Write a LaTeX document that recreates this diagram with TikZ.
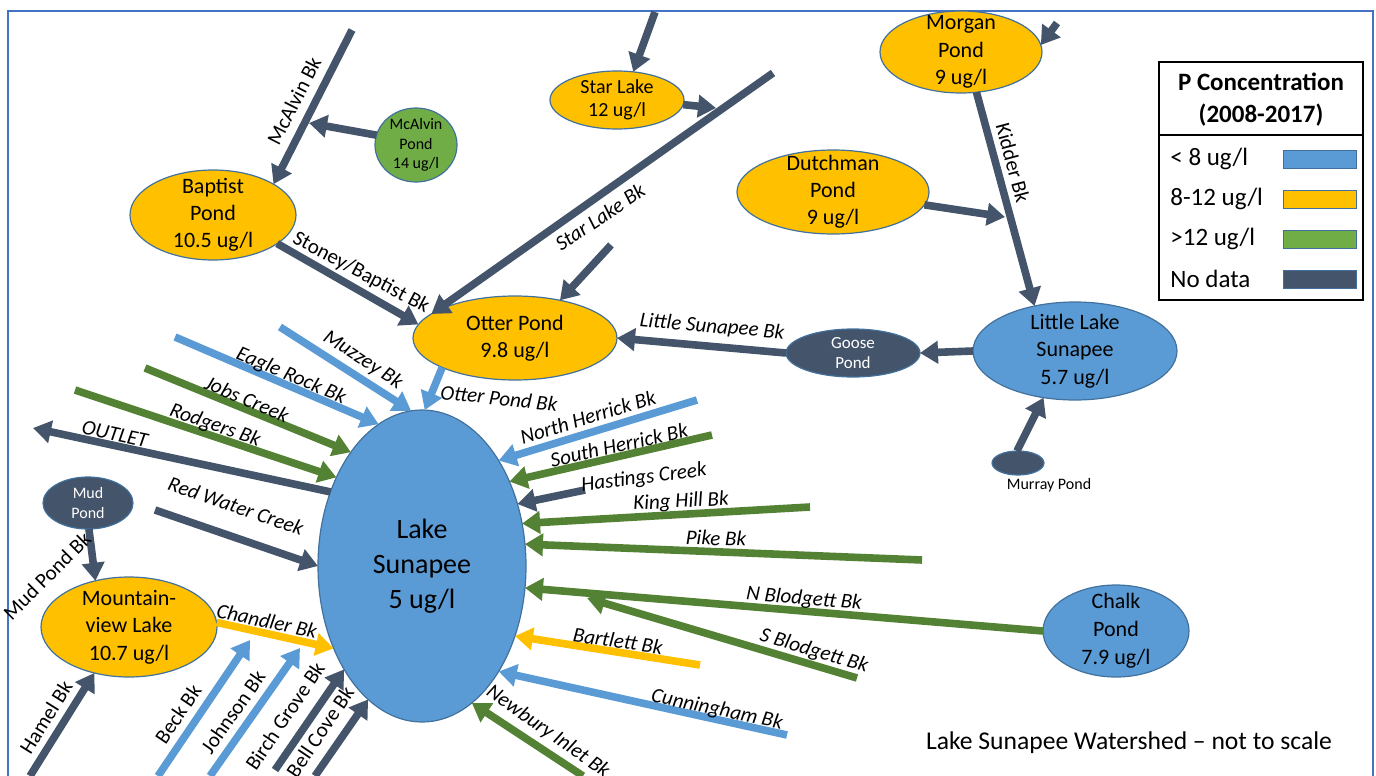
\documentclass[tikz,border=0pt]{standalone}
\usepackage{fontspec}
\setmainfont{Carlito}
\usetikzlibrary{shapes.geometric,arrows.meta}
\definecolor{lakeblue}{HTML}{5B9BD5}
\definecolor{pondgold}{HTML}{FFC000}
\definecolor{pondgreen}{HTML}{70AD47}
\definecolor{brookgreen}{HTML}{548235}
\definecolor{nodata}{HTML}{44546A}
\definecolor{rimblue}{HTML}{41719C}
\definecolor{frameblue}{HTML}{4472C4}

\begin{document}
\begin{tikzpicture}[x=0.5pt,y=-0.5pt,
	pond/.style={ellipse,draw=rimblue,line width=0.6pt,inner sep=-30pt,outer sep=0pt,align=center},
	flow/.style={line width=3.8pt,-{Triangle[length=9pt,width=11pt]}},
	brook/.style={inner sep=0pt,font=\fontsize{10.5}{12}\selectfont\itshape},
	brookup/.style={inner sep=0pt,font=\fontsize{10.5}{12}\selectfont}]
		\useasboundingbox (0,0) rectangle (1376,776);
		%frame
		\draw[frameblue,line width=1.2pt] (8,776) -- (8,11) -- (1373,11) -- (1373,776);
		
		%ponds and lakes
		\node[pond,fill=pondgold,minimum width=83pt,minimum height=45pt,font=\fontsize{11}{13.5}\selectfont] (baptist) at (213,215) {Baptist\\Pond\\10.5 ug/l};
		\node[pond,fill=pondgreen,minimum width=41pt,minimum height=37pt,font=\fontsize{8}{9.8}\selectfont] (mcalvin) at (416,145) {McAlvin\\Pond\\14 ug/l};
		\node[pond,fill=pondgold,minimum width=67pt,minimum height=29pt,font=\fontsize{10}{11.5}\selectfont] (starlake) at (617,100) {Star Lake\\12 ug/l};
		\node[pond,fill=pondgold,minimum width=81pt,minimum height=41pt,font=\fontsize{11}{13.8}\selectfont] (morgan) at (961,52) {Morgan\\Pond\\9 ug/l};
		\node[pond,fill=pondgold,minimum width=96pt,minimum height=42pt,font=\fontsize{11}{13.5}\selectfont] (dutchman) at (833,192) {Dutchman\\Pond\\9 ug/l};
		\node[pond,fill=pondgold,minimum width=102pt,minimum height=42pt,font=\fontsize{11}{13.5}\selectfont] (otter) at (515,338) {Otter Pond\\9.8 ug/l};
		\node[pond,fill=nodata,text=white,minimum width=67pt,minimum height=24pt,font=\fontsize{8.5}{10}\selectfont] (goose) at (853,353) {Goose\\Pond};
		\node[pond,fill=lakeblue,minimum width=102pt,minimum height=49pt,font=\fontsize{11}{13.8}\selectfont] (littlelake) at (1075,351) {Little Lake\\Sunapee\\5.7 ug/l};
		\node[pond,fill=nodata,minimum width=26pt,minimum height=12pt] (murray) at (1018,463) {};
		\node[inner sep=0pt,font=\fontsize{8}{10}\selectfont] (murrayname) at (1049,485) {Murray Pond};
		\node[pond,fill=lakeblue,minimum width=104pt,minimum height=156pt,font=\fontsize{14}{17.5}\selectfont] (lake) at (422,566) {Lake\\Sunapee\\5 ug/l};
		\node[pond,fill=nodata,text=white,minimum width=45pt,minimum height=26pt,font=\fontsize{8}{10}\selectfont] (mud) at (88,503) {Mud\\Pond};
		\node[pond,fill=pondgold,minimum width=88pt,minimum height=50pt,font=\fontsize{11}{13.8}\selectfont] (mountain) at (129,627) {Mountain-\\view Lake\\10.7 ug/l};
		\node[pond,fill=lakeblue,minimum width=73pt,minimum height=46pt,font=\fontsize{11}{14}\selectfont] (chalk) at (1116,631) {Chalk\\Pond\\7.9 ug/l};
		
		%free ends
		\coordinate (mcbkS) at (352,30);
		\coordinate (mcbkJ) at (309,123);
		\coordinate (starIn) at (655,12);
		\coordinate (slbkS) at (773,73);
		\coordinate (slbkJ) at (716,108);
		\coordinate (slbkT) at (611,245);
		\coordinate (morIn) at (1057,23);
		\coordinate (kidJ) at (1005,217);
		\coordinate (muzS) at (280,327);
		\coordinate (eagS) at (175,337);
		\coordinate (jobS) at (145,368);
		\coordinate (rodS) at (75,390);
		\coordinate (outE) at (33,428);
		\coordinate (redS) at (155,510);
		\coordinate (hamS) at (30,776);
		\coordinate (beckS) at (158,776);
		\coordinate (beckE) at (250,640);
		\coordinate (johS) at (210,776);
		\coordinate (johE) at (300,648);
		\coordinate (birS) at (275,770);
		\coordinate (belS) at (315,776);
		\coordinate (newS) at (583,776);
		\coordinate (cunS) at (787,735);
		\coordinate (barS) at (700,665);
		\coordinate (sblS) at (857,678);
		\coordinate (sblE) at (587,598);
		\coordinate (pikS) at (922,560);
		\coordinate (kinS) at (810,507);
		\coordinate (hasS) at (585,490);
		\coordinate (sheS) at (712,435);
		\coordinate (nheS) at (697,400);
		
		%no data brooks
		\draw[flow,nodata] (mcbkS) -- (baptist.27);
		\draw[flow,nodata] (mcalvin.166) -- (mcbkJ);
		\draw[flow,nodata] (starIn) -- (starlake.60);
		\draw[flow,nodata] (slbkS) -- (otter.164);
		\draw[flow,nodata] (starlake.-4) -- (slbkJ);
		\draw[flow,nodata] (slbkT) -- (otter.40);
		\draw[flow,nodata] (baptist.-24) -- (otter.172);
		\draw[flow,nodata] (morIn) -- (morgan.5);
		\draw[flow,nodata] (morgan.-69) -- (littlelake.132);
		\draw[flow,nodata] (dutchman.-8) -- (kidJ);
		\draw[flow,nodata] (littlelake.180) -- (goose.0);
		\draw[flow,nodata] (goose.180) -- (otter.0);
		\draw[flow,nodata] (murray.95) -- (littlelake.236);
		\draw[flow,nodata] (lake.141) -- (outE);
		\draw[flow,nodata] (redS) -- (lake.180);
		\draw[flow,nodata] (mud.-88) -- (mountain.126);
		\draw[flow,nodata] (hamS) -- (mountain.233);
		\draw[flow,nodata] (birS) -- (lake.233);
		\draw[flow,nodata] (belS) -- (lake.248);
		\draw[flow,nodata] (hasS) -- (lake.33);
		
		%blue brooks
		\draw[flow,lakeblue] (otter.202) -- (lake.89);
		\draw[flow,lakeblue] (muzS) -- (lake.94);
		\draw[flow,lakeblue] (eagS) -- (lake.107);
		\draw[flow,lakeblue] (beckS) -- (beckE);
		\draw[flow,lakeblue] (johS) -- (johE);
		\draw[flow,lakeblue] (cunS) -- (lake.306);
		\draw[flow,lakeblue] (nheS) -- (lake.54);
		
		%gold brooks
		\draw[flow,pondgold] (mountain.3) -- (lake.223);
		\draw[flow,pondgold] (barS) -- (lake.323);
		
		%green brooks
		\draw[flow,brookgreen] (jobS) -- (lake.122);
		\draw[flow,brookgreen] (rodS) -- (lake.134);
		\draw[flow,brookgreen] (newS) -- (lake.290);
		\draw[flow,brookgreen] (sblS) -- (sblE);
		\draw[flow,brookgreen] (chalk.180) -- (lake.348);
		\draw[flow,brookgreen] (pikS) -- (lake.12);
		\draw[flow,brookgreen] (kinS) -- (lake.23);
		\draw[flow,brookgreen] (sheS) -- (lake.44);
		
		%brook names
		\node[brookup,rotate=63] (lMcalvin) at (294,101) {McAlvin Bk};
		\node[brookup,rotate=-28] (lStoney) at (361,273) {Stoney/Baptist Bk};
		\node[brook,rotate=34] (lStarbk) at (600,217) {Star Lake Bk};
		\node[brookup,rotate=-75] (lKidder) at (1013,163) {Kidder Bk};
		\node[brook,rotate=-5] (lLittle) at (712,327) {Little Sunapee Bk};
		\node[brook,rotate=-6] (lOtterbk) at (499,398) {Otter Pond Bk};
		\node[brook,rotate=-33] (lMuzzey) at (363,360) {Muzzey Bk};
		\node[brook,rotate=-23] (lEagle) at (291,376) {Eagle Rock Bk};
		\node[brook,rotate=-23] (lJobs) at (247,399) {Jobs Creek};
		\node[brook,rotate=-19] (lRodgers) at (215,426) {Rodgers Bk};
		\node[brook,rotate=-12] (lOutlet) at (115,434) {OUTLET};
		\node[brook,rotate=-19] (lRedwater) at (236,506) {Red Water Creek};
		\node[brookup,rotate=45] (lMudbk) at (47,576) {Mud Pond Bk};
		\node[brookup,rotate=58] (lHamel) at (46,717) {Hamel Bk};
		\node[brook,rotate=-12] (lChandler) at (267,621) {Chandler Bk};
		\node[brookup,rotate=56] (lBeck) at (178,714) {Beck Bk};
		\node[brookup,rotate=55] (lJohnson) at (233,712) {Johnson Bk};
		\node[brookup,rotate=56] (lBirch) at (285,716) {Birch Grove Bk};
		\node[brookup,rotate=56] (lBellcove) at (320,732) {Bell Cove Bk};
		\node[brook,rotate=-35] (lNewbury) at (548,732) {Newbury Inlet Bk};
		\node[brook,rotate=17] (lNherrick) at (588,417) {North Herrick Bk};
		\node[brook,rotate=12.5] (lSherrick) at (619,445) {South Herrick Bk};
		\node[brook,rotate=7] (lHastings) at (644,478) {Hastings Creek};
		\node[brook,rotate=3] (lKinghill) at (681,502) {King Hill Bk};
		\node[brook,rotate=-2] (lPike) at (716,538) {Pike Bk};
		\node[brook,rotate=-5] (lNblodgett) at (804,599) {N Blodgett Bk};
		\node[brook,rotate=-16.5] (lSblodgett) at (814,651) {S Blodgett Bk};
		\node[brook,rotate=-8] (lBartlett) at (618,641) {Bartlett Bk};
		\node[brook,rotate=-12] (lCunningham) at (717,710) {Cunningham Bk};
		
		%legend
		\draw[line width=0.6pt] (1159,62) rectangle (1363,300);
		\draw[line width=0.6pt] (1159,135) -- (1363,135);
		\node[align=center,font=\bfseries\fontsize{12.5}{16}\selectfont] (legtitle) at (1261,100) {P Concentration\\(2008-2017)};
		\foreach \y/\txt/\col in {159/{< 8 ug/l}/lakeblue, 199/{8-12 ug/l}/pondgold, 239/{>12 ug/l}/pondgreen, 279/{No data}/nodata}{
			\node[anchor=west,inner sep=0pt,font=\fontsize{12.5}{15}\selectfont] (leg\y) at (1170,\y) {\txt};
			\draw[rimblue,fill=\col,line width=0.5pt] (1283,\y-9) rectangle (1356,\y+9);
		}
		
		\node[font=\fontsize{12.8}{15}\selectfont] (caption) at (1129,743) {Lake Sunapee Watershed – not to scale};
\end{tikzpicture}
\end{document}
